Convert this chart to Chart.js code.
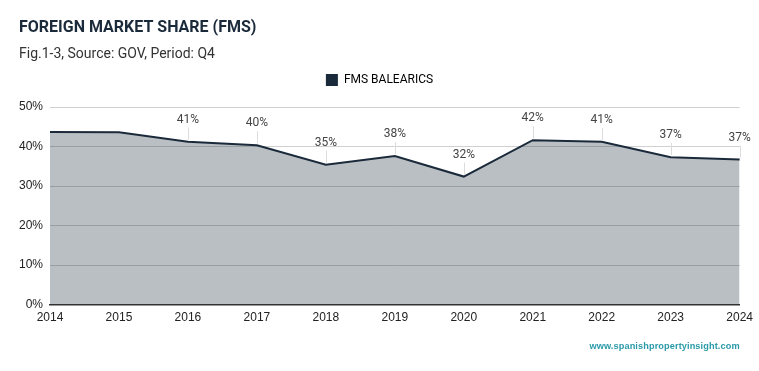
<!DOCTYPE html>
<html>
<head>
<meta charset="utf-8">
<script src="https://cdn.jsdelivr.net/npm/chart.js@4.4.1/dist/chart.umd.min.js"></script>
<style>
  html, body { margin: 0; padding: 0; background: #fff; }
  #wrap { position: relative; width: 759px; height: 371px; }
</style>
</head>
<body>
<div id="wrap"><canvas id="c" width="759" height="371"></canvas></div>
<script>
const years = ['2014','2015','2016','2017','2018','2019','2020','2021','2022','2023','2024'];
const fmsBalearics = [43.7, 43.6, 41.2, 40.3, 35.4, 37.6, 32.4, 41.6, 41.2, 37.3, 36.7];
const seriesName = 'FMS BALEARICS';
const titleText = 'FOREIGN MARKET SHARE (FMS)';
const subtitleText = 'Fig.1-3, Source: GOV, Period: Q4';
const watermark = 'www.spanishpropertyinsight.com';
const firstLabelIndex = 2;

const NAVY = '#1b2a3a';

const labelPlugin = {
  id: 'valueLabels',
  afterInit(chart) {
    const lg = chart.legend;
    if (lg) {
      const fit = lg.fit;
      lg.fit = function () { fit.call(this); this.height += 11; };
    }
  },
  afterDatasetsDraw(chart) {
    const ctx = chart.ctx;
    const meta = chart.getDatasetMeta(0);
    const data = chart.data.datasets[0].data;
    ctx.save();
    ctx.font = '12px Roboto';
    ctx.fillStyle = '#444';
    ctx.textAlign = 'center';
    ctx.textBaseline = 'middle';
    meta.data.forEach((pt, i) => {
      if (i < firstLabelIndex) return;
      const x = pt.x, y = pt.y;
      const ly = y - 22;
      ctx.strokeStyle = '#dcdcdc';
      ctx.lineWidth = 1;
      ctx.beginPath();
      ctx.moveTo(Math.round(x) + 0.5, y - 2);
      ctx.lineTo(Math.round(x) + 0.5, ly + 8);
      ctx.stroke();
      ctx.fillText(Math.round(data[i]) + '%', x, ly);
    });
    ctx.restore();
  },
  afterDraw(chart) {
    const ctx = chart.ctx;
    ctx.save();
    ctx.font = 'bold 9.2px "Liberation Sans"';
    try { ctx.letterSpacing = '0.1px'; } catch (e) {}
    ctx.fillStyle = '#2b9aa9';
    ctx.textAlign = 'right';
    ctx.textBaseline = 'middle';
    ctx.fillText(watermark, chart.chartArea.right, 346);
    ctx.restore();
  }
};

new Chart(document.getElementById('c'), {
  type: 'line',
  data: {
    labels: years,
    datasets: [{
      label: seriesName,
      data: fmsBalearics,
      borderColor: NAVY,
      backgroundColor: 'rgba(27,42,58,0.3)',
      borderWidth: 2,
      fill: 'origin',
      tension: 0,
      pointRadius: 0,
      pointHoverRadius: 0
    }]
  },
  options: {
    responsive: false,
    animation: false,
    devicePixelRatio: 1,
    layout: { padding: { left: 19, right: 19, top: 0, bottom: 40 } },
    plugins: {
      title: {
        display: true, text: titleText, align: 'start',
        color: NAVY, font: { family: 'Roboto', size: 16, weight: 'bold' },
        padding: { top: 18, bottom: 0 }
      },
      subtitle: {
        display: true, text: subtitleText, align: 'start',
        color: '#333', font: { family: 'Roboto', size: 14 },
        padding: { top: 8.4, bottom: 1.6 }
      },
      legend: {
        display: true, position: 'top', align: 'center',
        labels: {
          boxWidth: 12, boxHeight: 12, color: '#333',
          font: { family: 'Roboto', size: 12 },
          generateLabels(chart) {
            return [{ text: seriesName, fillStyle: NAVY, strokeStyle: NAVY, lineWidth: 0, datasetIndex: 0 }];
          }
        }
      },
      tooltip: { enabled: false }
    },
    scales: {
      x: {
        grid: { display: false, drawTicks: false },
        border: { display: true, color: '#333', width: 1.5 },
        offset: false,
        ticks: { color: '#222', font: { family: 'Liberation Sans', size: 12 }, padding: 6, maxRotation: 0, autoSkip: false }
      },
      y: {
        min: 0, max: 50,
        grid: { color: '#d0d0d0', drawTicks: false, lineWidth: 1 },
        border: { display: false },
        ticks: { stepSize: 10, color: '#222', font: { family: 'Liberation Sans', size: 12 }, padding: 7, callback: v => v + '%' },
        afterFit(scale) { scale.width = 31; }
      }
    }
  },
  plugins: [labelPlugin]
});
</script>
</body>
</html>
